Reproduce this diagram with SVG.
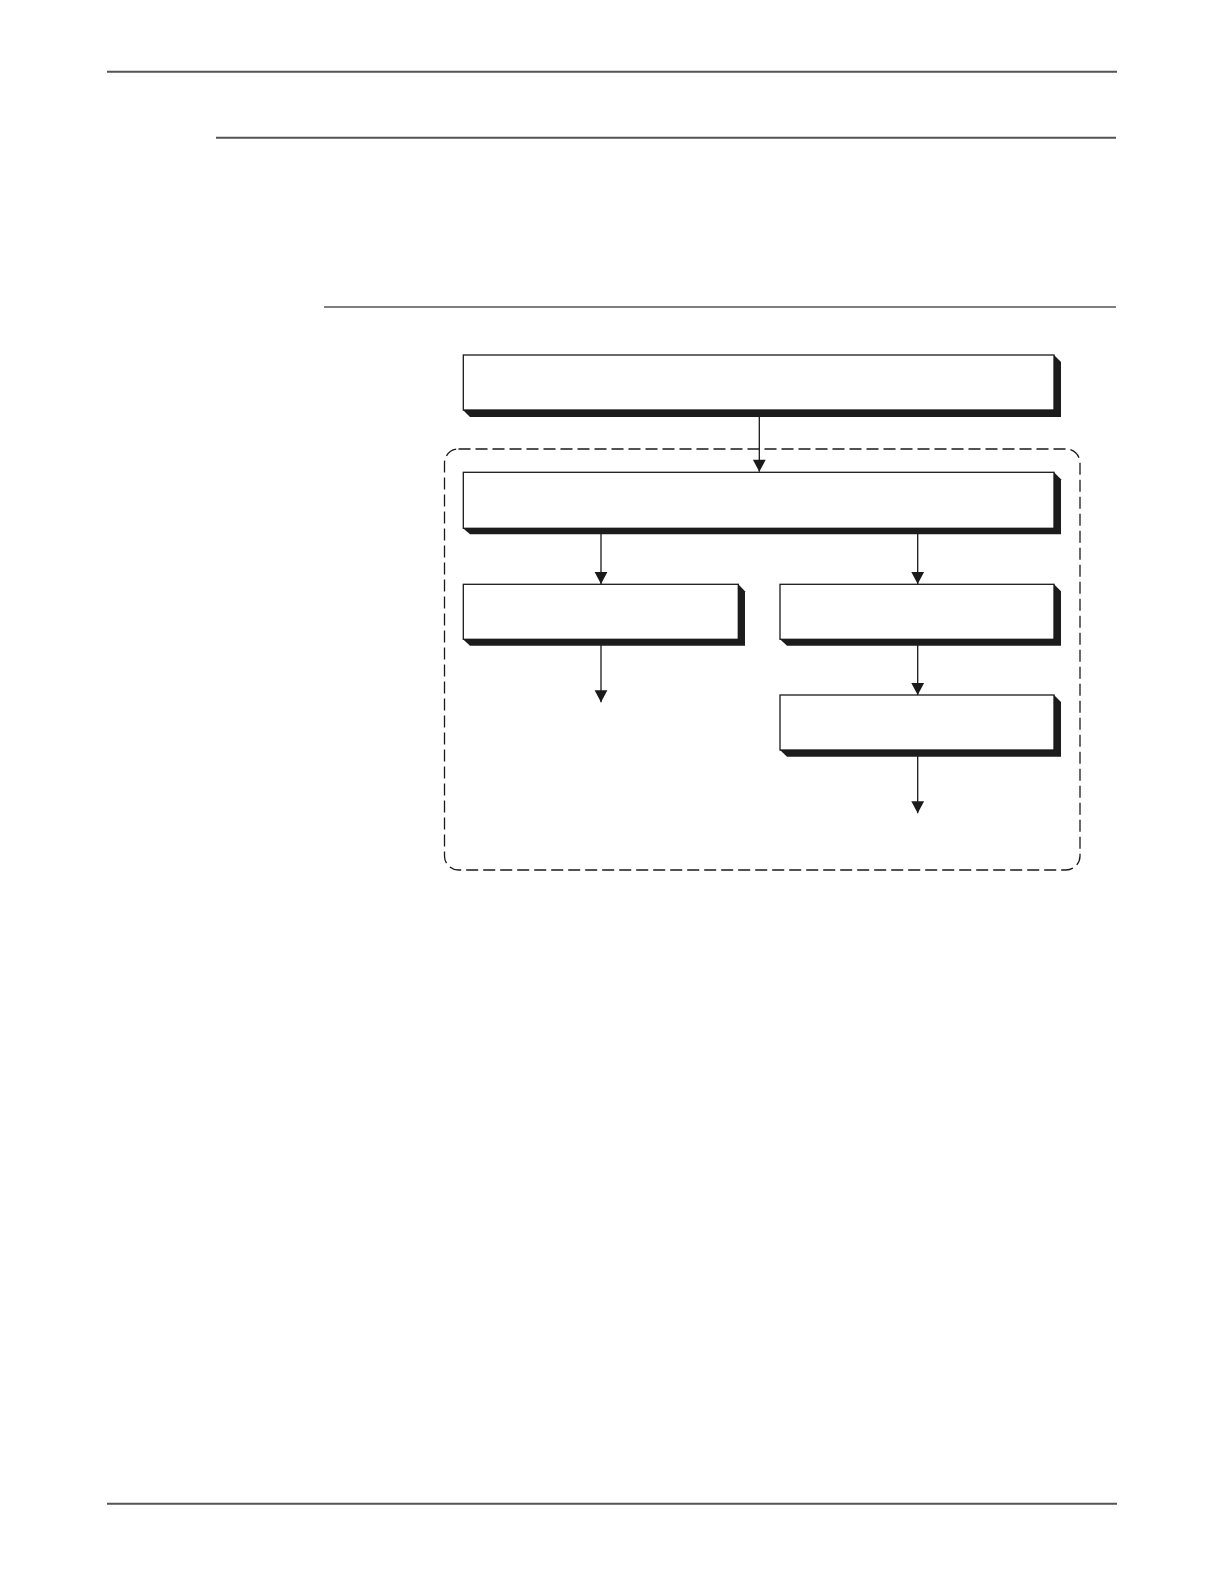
<svg xmlns="http://www.w3.org/2000/svg" width="1224" height="1584" viewBox="0 0 1224 1584">
<style>
.rule{stroke:#555;stroke-width:2;fill:none}
.rule-thin{stroke:#555;stroke-width:1.3;fill:none}
.box{fill:#fff;stroke:#1a1a1a;stroke-width:1.3}
.shadow{fill:#1c1c1c}
.conn{stroke:#1a1a1a;stroke-width:1.3;fill:none}
.group{fill:none;stroke:#1a1a1a;stroke-width:1.3;stroke-dasharray:12 5}
</style>
<defs>
<marker id="arrow" markerUnits="userSpaceOnUse" markerWidth="14" markerHeight="14" viewBox="0 0 14 14" refX="13" refY="7" orient="auto">
<path d="M1,0.6 L13,7 L1,13.4 Z" fill="#1a1a1a"/>
</marker>
</defs>
<rect width="1224" height="1584" fill="#fff"/>
<g id="page-rules">
<line class="rule" x1="107" y1="71.7" x2="1117" y2="71.7"/>
<line class="rule" x1="216" y1="137.7" x2="1116" y2="137.7"/>
<line class="rule-thin" x1="324" y1="307" x2="1116" y2="307"/>
<line class="rule" x1="107" y1="1503.7" x2="1117" y2="1503.7"/>
</g>
<g id="group-boundary">
<rect class="group" x="444.5" y="449" width="635.5" height="421" rx="14" ry="14"/>
</g>
<g id="node-1">
<polygon class="shadow" points="1054,355 1061,362 1061,417 470,417 463,410"/>
<rect class="box" x="463.3" y="355" width="590.7" height="55"/>
</g>
<g id="node-2">
<polygon class="shadow" points="1054,472.3 1061,479.3 1061,534.3 470,534.3 463,528.3"/>
<rect class="box" x="463.3" y="472.3" width="590.7" height="56"/>
</g>
<g id="node-3">
<polygon class="shadow" points="738.3,584.3 745,591.3 745,645.8 470,645.8 463,639.3"/>
<rect class="box" x="463.3" y="584.3" width="275" height="55"/>
</g>
<g id="node-4">
<polygon class="shadow" points="1054,584.3 1061,591.3 1061,645.8 787,645.8 780,639.3"/>
<rect class="box" x="780" y="584.3" width="274" height="55"/>
</g>
<g id="node-5">
<polygon class="shadow" points="1054,695 1061,702 1061,756.7 787,756.7 780,750"/>
<rect class="box" x="780" y="695" width="274" height="55"/>
</g>
<g id="connectors">
<line class="conn" x1="759.3" y1="416" x2="759.3" y2="471.7" marker-end="url(#arrow)"/>
<line class="conn" x1="601" y1="534" x2="601" y2="584" marker-end="url(#arrow)"/>
<line class="conn" x1="917.7" y1="534" x2="917.7" y2="584" marker-end="url(#arrow)"/>
<line class="conn" x1="601" y1="645" x2="601" y2="702.3" marker-end="url(#arrow)"/>
<line class="conn" x1="917.7" y1="645" x2="917.7" y2="695" marker-end="url(#arrow)"/>
<line class="conn" x1="917.7" y1="756" x2="917.7" y2="813.3" marker-end="url(#arrow)"/>
</g>
</svg>
